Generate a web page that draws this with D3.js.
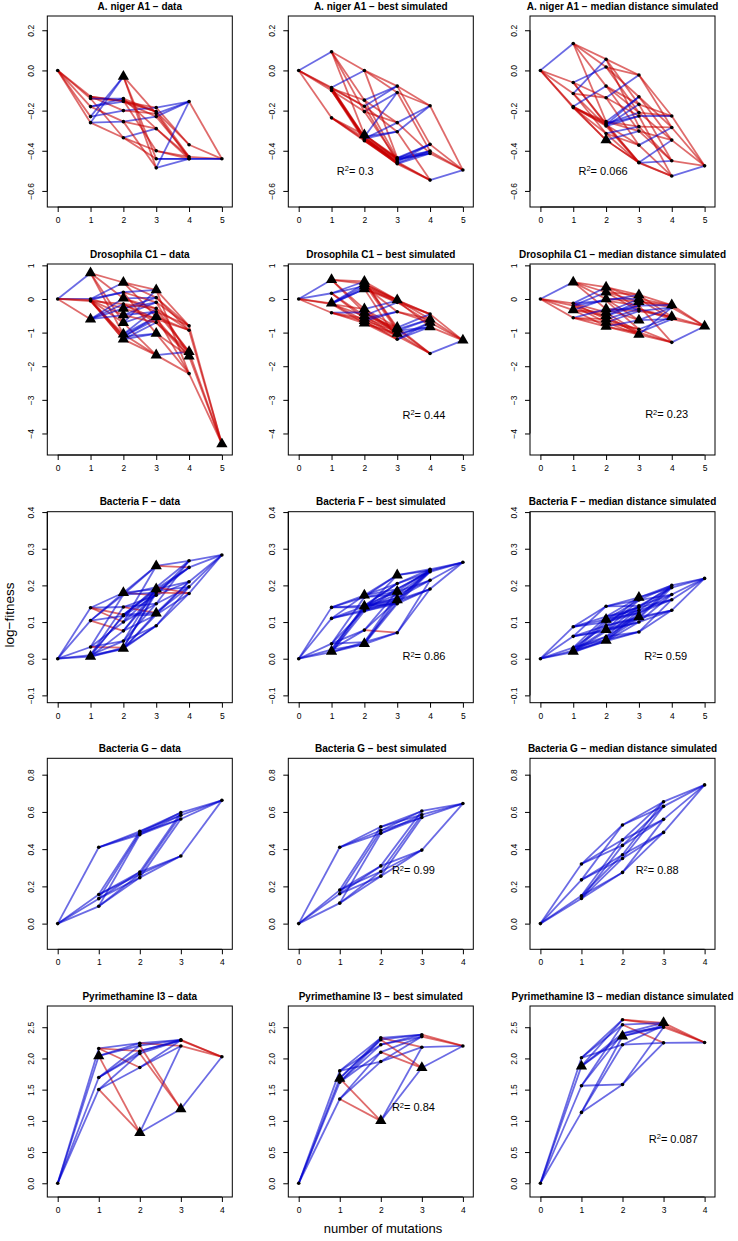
<!DOCTYPE html>
<html><head><meta charset="utf-8">
<script src="https://cdn.jsdelivr.net/npm/d3@7"></script>
<style>
body{margin:0;background:#fff}
text{font-family:"Liberation Sans",Arial,Helvetica,sans-serif;fill:#000}
</style>
</head><body>
<svg id="chart" width="738" height="1241"></svg>
<script>
// ---------- labels ----------
const datasetNames = ["A. niger A1", "Drosophila C1", "Bacteria F", "Bacteria G", "Pyrimethamine I3"];
const panelKinds = ["data", "best simulated", "median distance simulated"];
const lociPerRow = [5, 5, 5, 4, 4];
const yLimits = [[-0.68, 0.271], [-4.64, 1.04], [-0.12, 0.401], [-0.138, 0.888], [-0.22, 2.84]];
const yTicks = [[-0.6, -0.4, -0.2, 0.0, 0.2], [-4, -3, -2, -1, 0, 1], [-0.1, 0, 0.1, 0.2, 0.3, 0.4], [0, 0.2, 0.4, 0.6, 0.8], [0, 0.5, 1, 1.5, 2, 2.5]];
const yTickFormats = [".1f", "d", ".1f", ".1f", ".1f"];
const r2Values = [[null, "0.3", "0.066"], [null, "0.44", "0.23"], [null, "0.86", "0.59"], [null, "0.99", "0.88"], [null, "0.84", "0.087"]];
const r2Anchors = [[null, [1.16, -0.5], [1.16, -0.5]], [null, [3.16, -3.45], [3.19, -3.43]], [null, [3.16, 0.006], [3.16, 0.006]], [null, [2.27, 0.287], [2.32, 0.287]], [null, [2.27, 1.22], [2.64, 0.71]]];

// ---------- genotype fitness values, per number of mutations (canonical combination order) ----------
// A. niger A1
const anigerData = [[0], [-0.13, -0.14, -0.18, -0.23, -0.26],
  [-0.15, -0.155, -0.2, null, -0.14, null, -0.335, null, -0.255, -0.03],
  [-0.205, null, -0.4, -0.185, -0.23, -0.215, null, -0.29, -0.44, -0.485],
  [-0.37, -0.43, -0.44, -0.155, -0.44], [-0.44]];
const anigerDataTri = [[2, -0.03]];
const anigerBest = [[0], [0.093, -0.085, -0.09, -0.10, -0.236],
  [0.0, -0.148, -0.205, -0.32, -0.178, -0.33, -0.335, -0.34, -0.345, -0.35],
  [-0.078, -0.11, -0.435, -0.26, -0.44, -0.445, -0.305, -0.455, -0.46, -0.465],
  [-0.176, -0.368, -0.402, -0.413, -0.546], [-0.496]];
const anigerBestTri = [[2, -0.322]];
const anigerMed = [[0], [0.134, -0.06, -0.115, -0.18, -0.185],
  [0.017, 0.056, -0.078, -0.255, -0.136, -0.265, -0.27, -0.277, -0.314, -0.347],
  [-0.023, -0.21, -0.131, -0.169, -0.28, -0.302, -0.227, -0.372, -0.458, -0.46],
  [-0.227, -0.284, -0.347, -0.45, -0.526], [-0.475]];
const anigerMedTri = [[2, -0.347]];
// Drosophila C1
const drosData = [[0], [0.77, 0.0, -0.03, -0.06, -0.6],
  [0.49, -0.71, -1.05, 0.02, 0.2, -1.12, -0.28, -1.2, -0.48, -0.15],
  [0.27, -0.53, 0.04, -1.67, -0.38, -0.28, -1.03, -0.1, -0.6, -0.7],
  [-2.22, -0.8, -0.93, -1.57, -1.7], [-4.31]];
const drosDataTri = [[1, 0.77], [1, -0.6], [2, 0.49], [2, 0.02], [2, -0.28], [2, -0.48], [2, -0.71], [2, -1.05], [2, -1.2], [3, 0.27], [3, -0.53], [3, -1.03], [3, -1.67], [4, -1.57], [4, -1.7], [5, -4.31]];
const drosBest = [[0], [0.57, 0.17, -0.13, -0.15, -0.41],
  [0.52, 0.45, -0.3, -0.4, 0.38, -0.5, -0.58, 0.3, -0.65, -0.72],
  [-0.03, -0.85, -0.9, -0.05, -0.95, -1.03, -0.1, -0.38, -1.1, -1.2],
  [-0.45, -0.6, -1.62, -0.83, -0.7], [-1.23]];
const drosBestTri = [[1, 0.57], [1, -0.13], [2, 0.52], [2, 0.45], [2, 0.38], [2, 0.3], [2, -0.3], [2, -0.4], [2, -0.5], [2, -0.58], [2, -0.65], [2, -0.72], [3, -0.03], [3, -0.85], [3, -0.9], [3, -1.03], [4, -0.6], [4, -0.7], [4, -0.83], [5, -1.23]];
const drosMed = [[0], [0.5, -0.13, -0.2, -0.33, -0.56],
  [0.35, 0.2, 0.0, -0.3, -0.05, -0.4, -0.6, -0.5, -0.7, -0.82],
  [0.12, 0.0, -0.3, -0.08, -0.36, -0.63, -0.2, -0.9, -1.0, -1.06],
  [-0.18, -0.53, -0.6, -0.25, -1.29], [-0.81]];
const drosMedTri = [[1, 0.5], [1, -0.33], [2, 0.35], [2, 0.2], [2, 0.0], [2, -0.3], [2, -0.4], [2, -0.5], [2, -0.6], [2, -0.7], [2, -0.82], [3, 0.12], [3, 0.0], [3, -0.08], [3, -0.63], [3, -1.06], [4, -0.18], [4, -0.53], [5, -0.81]];
// Bacteria F
const bactFData = [[0], [0.139, 0.104, 0.032, 0.01, 0.006],
  [0.18, 0.1, 0.141, 0.12, 0.175, 0.117, 0.076, 0.048, 0.03, 0.027],
  [0.253, 0.173, 0.19, 0.15, 0.185, 0.125, 0.195, 0.18, 0.12, 0.09],
  [0.267, 0.249, 0.21, 0.196, 0.178], [0.283]];
const bactFDataTri = [[1, 0.006], [2, 0.18], [2, 0.028], [3, 0.253], [3, 0.19], [3, 0.124]];
const bactFBest = [[0], [0.14, 0.11, 0.041, 0.025, 0.018],
  [0.173, 0.168, 0.145, 0.14, 0.134, 0.143, 0.13, 0.078, 0.045, 0.04],
  [0.228, 0.205, 0.19, 0.183, 0.175, 0.165, 0.16, 0.155, 0.15, 0.071],
  [0.244, 0.24, 0.237, 0.214, 0.19], [0.263]];
const bactFBestTri = [[1, 0.02], [2, 0.173], [2, 0.143], [2, 0.041], [3, 0.228], [3, 0.183], [3, 0.16]];
const bactFMed = [[0], [0.087, 0.061, 0.03, 0.022, 0.018],
  [0.143, 0.115, 0.107, 0.1, 0.09, 0.079, 0.075, 0.06, 0.052, 0.048],
  [0.167, 0.16, 0.144, 0.14, 0.132, 0.125, 0.114, 0.11, 0.1, 0.073],
  [0.2, 0.194, 0.175, 0.161, 0.132], [0.219]];
const bactFMedTri = [[1, 0.02], [2, 0.107], [2, 0.079], [2, 0.05], [3, 0.167], [3, 0.114]];
// Bacteria G
const bactGData = [[0], [0.41, 0.156, 0.134, 0.093],
  [0.496, 0.487, 0.478, 0.277, 0.265, 0.247],
  [0.596, 0.582, 0.562, 0.363], [0.662]];
const bactGDataTri = [];
const bactGBest = [[0], [0.41, 0.18, 0.16, 0.11],
  [0.52, 0.5, 0.485, 0.31, 0.28, 0.255],
  [0.605, 0.585, 0.57, 0.395], [0.645]];
const bactGBestTri = [];
const bactGMed = [[0], [0.32, 0.235, 0.15, 0.135],
  [0.53, 0.45, 0.42, 0.37, 0.35, 0.275],
  [0.655, 0.63, 0.56, 0.49], [0.745]];
const bactGMedTri = [];
// Pyrimethamine I3
const pyrData = [[0], [2.16, 2.04, 1.695, 1.503],
  [2.244, 2.116, 1.855, 2.207, 0.81, 2.08],
  [2.297, 2.2, 2.29, 1.19], [2.026]];
const pyrDataTri = [[1, 2.04], [2, 0.81], [3, 1.19]];
const pyrBest = [[0], [1.8, 1.68, 1.62, 1.35],
  [2.33, 2.22, 1.95, 2.3, 1.0, 2.1],
  [2.38, 2.18, 2.35, 1.85], [2.2]];
const pyrBestTri = [[1, 1.68], [2, 1.0], [3, 1.85]];
const pyrMed = [[0], [2.01, 1.876, 1.562, 1.135],
  [2.62, 2.54, 2.22, 2.4, 2.356, 1.583],
  [2.57, 2.53, 2.25, 2.5], [2.255]];
const pyrMedTri = [[1, 1.876], [2, 2.356], [3, 2.57]];

const panelValues = [[anigerData, anigerBest, anigerMed], [drosData, drosBest, drosMed], [bactFData, bactFBest, bactFMed], [bactGData, bactGBest, bactGMed], [pyrData, pyrBest, pyrMed]];
const panelTriangles = [[anigerDataTri, anigerBestTri, anigerMedTri], [drosDataTri, drosBestTri, drosMedTri], [bactFDataTri, bactFBestTri, bactFMedTri], [bactGDataTri, bactGBestTri, bactGMedTri], [pyrDataTri, pyrBestTri, pyrMedTri]];

// ---------- layout ----------
const boxLeft = [47.3, 288.3, 530];
const boxTop = [16, 264, 511.7, 758.3, 1006];
const boxW = 185, boxH = 191, xPad = 10.4;
const RED = "#c80000", BLUE = "#0000d0";

function combos(n, k) {
  const out = [];
  (function rec(start, cur) {
    if (cur.length === k) { out.push(cur.reduce((m, b) => m | (1 << b), 0)); return; }
    for (let i = start; i < n; i++) rec(i + 1, cur.concat(i));
  })(0, []);
  return out;
}

const svg = d3.select("#chart");

for (let r = 0; r < 5; r++) {
  const n = lociPerRow[r];
  for (let c = 0; c < 3; c++) {
    const L = boxLeft[c], T = boxTop[r];
    const x = d3.scaleLinear().domain([0, n]).range([L + xPad, L + boxW - xPad]);
    const y = d3.scaleLinear().domain(yLimits[r]).range([T + boxH, T]);
    const g = svg.append("g");

    // nodes
    const levels = panelValues[r][c];
    const nodes = new Map();
    levels.forEach((vals, k) => {
      const masks = combos(n, k);
      vals.forEach((v, i) => { if (v !== null) nodes.set(masks[i], { k, v }); });
    });
    const edges = [];
    nodes.forEach((a, m) => {
      for (let j = 0; j < n; j++) {
        if (m & (1 << j)) continue;
        const b = nodes.get(m | (1 << j));
        if (b) edges.push([a, b]);
      }
    });
    const clipId = `clip${r}${c}`;
    g.append("clipPath").attr("id", clipId).append("rect")
      .attr("x", L).attr("y", T).attr("width", boxW).attr("height", boxH);
    const plot = g.append("g").attr("clip-path", `url(#${clipId})`);
    plot.selectAll("line.e").data(edges).join("line")
      .attr("x1", d => x(d[0].k)).attr("y1", d => y(d[0].v))
      .attr("x2", d => x(d[1].k)).attr("y2", d => y(d[1].v))
      .attr("stroke", d => d[1].v >= d[0].v ? BLUE : RED)
      .attr("stroke-opacity", 0.58).attr("stroke-width", 1.8);
    plot.selectAll("circle").data([...nodes.values()]).join("circle")
      .attr("cx", d => x(d.k)).attr("cy", d => y(d.v)).attr("r", 1.8).attr("fill", "#000");
    plot.selectAll("path.tri").data(panelTriangles[r][c]).join("path")
      .attr("transform", d => `translate(${x(d[0])},${y(d[1])})`)
      .attr("d", d3.symbol(d3.symbolTriangle, 55)).attr("fill", "#000");

    // box
    g.append("rect").attr("x", L).attr("y", T).attr("width", boxW).attr("height", boxH)
      .attr("fill", "none").attr("stroke", "#000").attr("stroke-width", 1);

    // x axis
    const xAxis = g.append("g").attr("transform", `translate(0,${T + boxH})`)
      .call(d3.axisBottom(x).tickValues(d3.range(0, n + 1)).tickFormat(d3.format("d")).tickSize(5).tickPadding(5));
    xAxis.select(".domain").attr("d", `M${x(0)},0H${x(n)}`);
    xAxis.selectAll("text").attr("font-size", 8.5).attr("font-family", null);
    // y axis
    const yAxis = g.append("g").attr("transform", `translate(${L},0)`)
      .call(d3.axisLeft(y).tickValues(yTicks[r]).tickFormat(d3.format(yTickFormats[r])).tickSize(5).tickPadding(0));
    yAxis.select(".domain").attr("d", `M0,${y(d3.min(yTicks[r]))}V${y(d3.max(yTicks[r]))}`);
    yAxis.selectAll(".tick text")
      .attr("x", null).attr("dy", null)
      .attr("text-anchor", "middle").attr("font-size", 8.5).attr("font-family", null)
      .attr("transform", "translate(-13.5,0) rotate(-90)");
    svg.selectAll(".tick line, .domain").attr("stroke", "#000");

    // title
    g.append("text").attr("x", L + boxW / 2).attr("y", T - 6.5).attr("text-anchor", "middle")
      .attr("font-size", 10).attr("font-weight", "bold")
      .text(`${datasetNames[r]} \u2212 ${panelKinds[c]}`);

    // R^2
    if (r2Values[r][c]) {
      const [ax, ay] = r2Anchors[r][c];
      const t = g.append("text").attr("x", x(ax)).attr("y", y(ay)).attr("dy", "0.35em").attr("font-size", 11);
      t.append("tspan").text("R");
      t.append("tspan").attr("font-size", 7.5).attr("dy", "-0.45em").text("2");
      t.append("tspan").attr("dy", "0.3em").text("= " + r2Values[r][c]);
    }
  }
}

svg.append("text").attr("transform", "translate(14,615) rotate(-90)").attr("text-anchor", "middle")
  .attr("font-size", 13.5).text("log\u2212fitness");
svg.append("text").attr("x", 383).attr("y", 1233).attr("text-anchor", "middle")
  .attr("font-size", 13).text("number of mutations");
</script>
</body></html>
